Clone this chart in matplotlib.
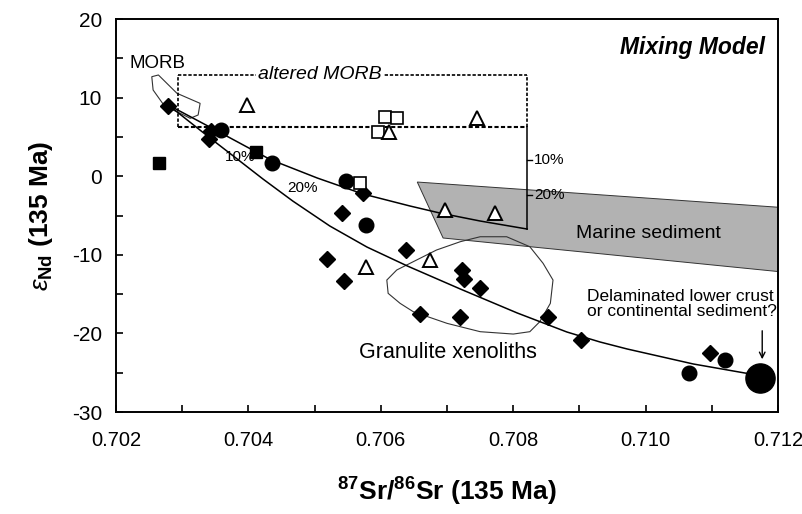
import numpy as np
import matplotlib.pyplot as plt
from matplotlib.ticker import MultipleLocator

plt.rcParams['font.family'] = ['Liberation Sans', 'DejaVu Sans']
plt.rcParams['mathtext.fontset'] = 'custom'
plt.rcParams['mathtext.rm'] = 'Liberation Sans'
plt.rcParams['mathtext.bf'] = 'Liberation Sans:bold'
plt.rcParams['mathtext.it'] = 'Liberation Sans:italic'
plt.rcParams['axes.unicode_minus'] = False

# samples
diamond_x = [0.70279, 0.70343, 0.70340, 0.70541, 0.70573, 0.70518, 0.70544, 0.70638,
             0.70722, 0.70725, 0.70750, 0.70659, 0.70719, 0.70852, 0.70903, 0.71097]
diamond_y = [8.93, 5.75, 4.73, -4.72, -2.18, -10.57, -13.33, -9.39,
             -11.93, -13.12, -14.26, -17.53, -17.88, -17.88, -20.84, -22.53]
circle_x = [0.70358, 0.70435, 0.70547, 0.70578, 0.71065, 0.71120]
circle_y = [5.88, 1.64, -0.57, -6.21, -25.0, -23.38]
big_x = [0.71173]
big_y = [-25.71]
fsq_x = [0.70265, 0.70411]
fsq_y = [1.64, 3.12]
osq_x = [0.70606, 0.70624, 0.70596, 0.70568]
osq_y = [7.57, 7.37, 5.66, -0.90]
tri_x = [0.70398, 0.70613, 0.70745, 0.70697, 0.70773, 0.70674, 0.70578]
tri_y = [9.06, 5.66, 7.37, -4.30, -4.64, -10.66, -11.51]

# mixing curves
upper_x = [0.70279, 0.70353, 0.70433, 0.70504, 0.70573, 0.70644, 0.70689, 0.70750, 0.70821]
upper_y = [9.06, 5.75, 2.12, -0.23, -2.26, -3.79, -4.68, -5.70, -6.72]
lower_x = [0.70279, 0.70342, 0.70383, 0.70422, 0.70467, 0.70523, 0.70579, 0.70640,
           0.70720, 0.70806, 0.70881, 0.70931, 0.70972, 0.71072, 0.71150, 0.71173]
lower_y = [9.06, 4.86, 2.19, -0.36, -3.16, -6.34, -9.01, -11.42,
           -14.35, -17.40, -19.82, -21.09, -21.98, -23.89, -25.04, -25.3]

# fields
morb_x = [0.70254, 0.70264, 0.70292, 0.70327, 0.70324, 0.70312, 0.70292, 0.70274, 0.70256]
morb_y = [12.66, 12.88, 10.55, 9.27, 7.79, 7.37, 8.21, 8.84, 10.97]
gran_x = [0.70609, 0.70611, 0.70629, 0.70649, 0.70700, 0.70750, 0.70800, 0.70825, 0.70840,
          0.70856, 0.70860, 0.70845, 0.70825, 0.70790, 0.70750, 0.70720, 0.70684, 0.70654, 0.70624]
gran_y = [-13.21, -14.90, -16.17, -17.24, -18.72, -19.78, -20.08, -19.78, -18.51,
          -16.17, -13.21, -11.08, -8.97, -7.70, -7.70, -8.33, -9.39, -10.66, -11.93]
sed_x = [0.70655, 0.7125, 0.7125, 0.70694]
sed_y = [-0.74, -4.24, -12.55, -7.86]

altered_x = [0.70294, 0.70821]
altered_y = [6.26, 12.9]
bar_bottom = -6.72
pct_y = [2.06, -2.39]
pct_labels = ['10%', '20%']

fig = plt.figure(figsize=(8.03, 5.14), dpi=100)
ax = fig.add_axes([0.1445, 0.1984, 0.8245, 0.7646])

ax.fill(sed_x, sed_y, facecolor='#b2b2b2', edgecolor='#333333', lw=0.7, zorder=1)
ax.fill(morb_x, morb_y, facecolor='none', edgecolor='#333333', lw=0.8, zorder=2)
ax.fill(gran_x, gran_y, facecolor='none', edgecolor='#333333', lw=0.8, zorder=2)

# altered MORB box
dash = (0, (2.0, 1.1))
x0, x1 = altered_x
y0, y1 = altered_y
ax.plot([x0, x1], [y1, y1], color='black', lw=1.2, ls=dash, zorder=3)
ax.plot([x0, x1], [y0, y0], color='black', lw=1.5, ls=dash, zorder=3)
ax.plot([x0, x0], [y0, y1], color='black', lw=1.2, ls=dash, zorder=3)
ax.plot([x1, x1], [y0, y1], color='black', lw=1.2, ls=dash, zorder=3)
ax.plot([x1, x1], [y0, bar_bottom], color='black', lw=1.1, zorder=3)
for yy, lab in zip(pct_y, pct_labels):
    ax.plot([x1, x1 + 0.00008], [yy, yy], color='black', lw=1.0, zorder=3)
    ax.text(x1 + 0.0001, yy, lab, fontsize=11, va='center', ha='left')
ax.text(0.70508, y1, 'altered MORB', fontsize=14, style='italic', ha='center', va='center',
        bbox=dict(facecolor='white', edgecolor='none', pad=1.5), zorder=4)

ax.plot(upper_x, upper_y, color='black', lw=1.1, zorder=3)
ax.plot(lower_x, lower_y, color='black', lw=1.1, zorder=3)

ax.plot(diamond_x, diamond_y, 'D', color='black', ms=8.5, ls='none', zorder=5)
ax.plot(circle_x, circle_y, 'o', color='black', ms=10.5, ls='none', zorder=5)
ax.plot(big_x, big_y, 'o', color='black', ms=21, ls='none', zorder=5)
ax.plot(fsq_x, fsq_y, 's', color='black', ms=8, ls='none', zorder=5)
ax.plot(osq_x, osq_y, 's', mfc='white', mec='black', mew=1.2, ms=8.5, ls='none', zorder=5)
ax.plot(tri_x, tri_y, '^', mfc='white', mec='black', mew=1.4, ms=10, ls='none', zorder=5)

ax.text(0.70262, 14.4, 'MORB', fontsize=13.5, ha='center', va='center')
ax.text(0.70387, 2.44, '10%', fontsize=11, ha='center', va='center', zorder=4)
ax.text(0.70481, -1.5, '20%', fontsize=11, ha='center', va='center', zorder=4)
ax.text(0.71004, -7.23, 'Marine sediment', fontsize=14, ha='center', va='center')
ax.text(0.70702, -22.37, 'Granulite xenoliths', fontsize=15.5, ha='center', va='center')
ax.text(0.70911, -16.2, 'Delaminated lower crust\nor continental sediment?', fontsize=12.5,
        ha='left', va='center', linespacing=1.0)
ax.text(0.7118, 16.4, 'Mixing Model', fontsize=16.5, fontweight='bold', style='italic',
        ha='right', va='center')
ax.annotate('', xy=(0.71176, -23.64), xytext=(0.71176, -19.31),
            arrowprops=dict(arrowstyle='->', color='black', lw=1.0))

ax.set_xlim(0.702, 0.712)
ax.set_ylim(-30, 20)
ax.xaxis.set_major_locator(MultipleLocator(0.002))
ax.xaxis.set_minor_locator(MultipleLocator(0.001))
ax.yaxis.set_major_locator(MultipleLocator(10))
ax.yaxis.set_minor_locator(MultipleLocator(5))
ax.xaxis.set_major_formatter(plt.FormatStrFormatter('%.3f'))
ax.tick_params(which='both', direction='in', length=5, width=1.2, top=False, right=False)
ax.tick_params(axis='x', labelsize=14.5, pad=14)
ax.tick_params(axis='y', labelsize=15, pad=10)
for s in ax.spines.values():
    s.set_linewidth(1.4)

ax.set_xlabel(r'$^{\mathbf{87}}$Sr/$^{\mathbf{86}}$Sr (135 Ma)', fontsize=19, fontweight='bold',
              labelpad=18)
ax.set_ylabel(r'$\varepsilon_{\mathbf{Nd}}$ (135 Ma)', fontsize=19, fontweight='bold', labelpad=12)

fig.savefig('out.png', dpi=100)
